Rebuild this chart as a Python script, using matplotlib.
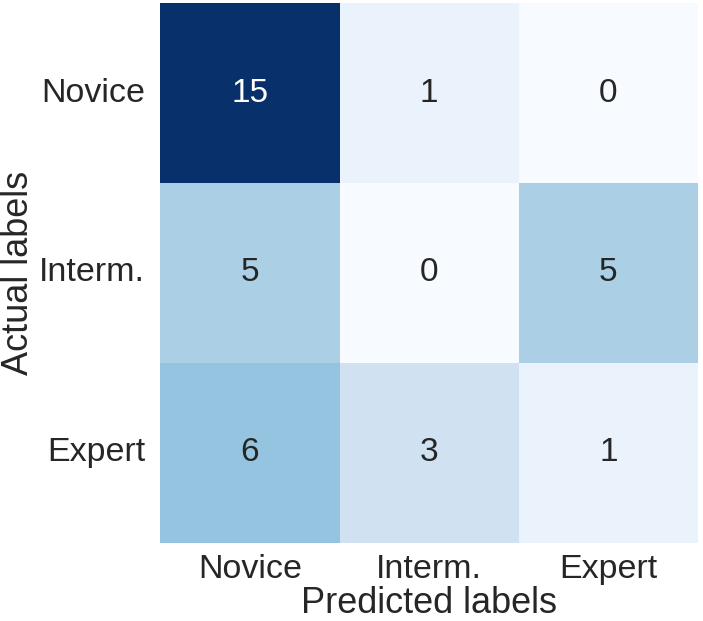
import matplotlib
matplotlib.use("Agg")
import matplotlib.pyplot as plt
import seaborn as sns
import numpy as np

categories = ["Novice", "Interm.", "Expert"]
matrix = [[15, 1, 0],
          [5, 0, 5],
          [6, 3, 1]]

sns.set_theme(style="white")
plt.rcParams['font.family'] = ['Liberation Sans', 'DejaVu Sans']

fig = plt.figure(figsize=(7.03, 6.21), dpi=100)
ax = fig.add_axes([0.228, 0.126, 0.765, 0.869])
sns.heatmap(np.array(matrix), annot=True, fmt="d", cmap="Blues", cbar=False,
            xticklabels=categories, yticklabels=categories, ax=ax,
            annot_kws={"size": 24})
ax.set_xlabel("Predicted labels", fontsize=26, color="#262626", labelpad=1)
ax.set_ylabel("Actual labels", fontsize=26, color="#262626", labelpad=2)
ax.tick_params(axis='both', labelsize=24.5, colors="#262626", length=0)
ax.tick_params(axis='y', pad=11)
ax.tick_params(axis='x', pad=8)
plt.setp(ax.get_yticklabels(), rotation=0)
fig.savefig("out.png", dpi=100)
